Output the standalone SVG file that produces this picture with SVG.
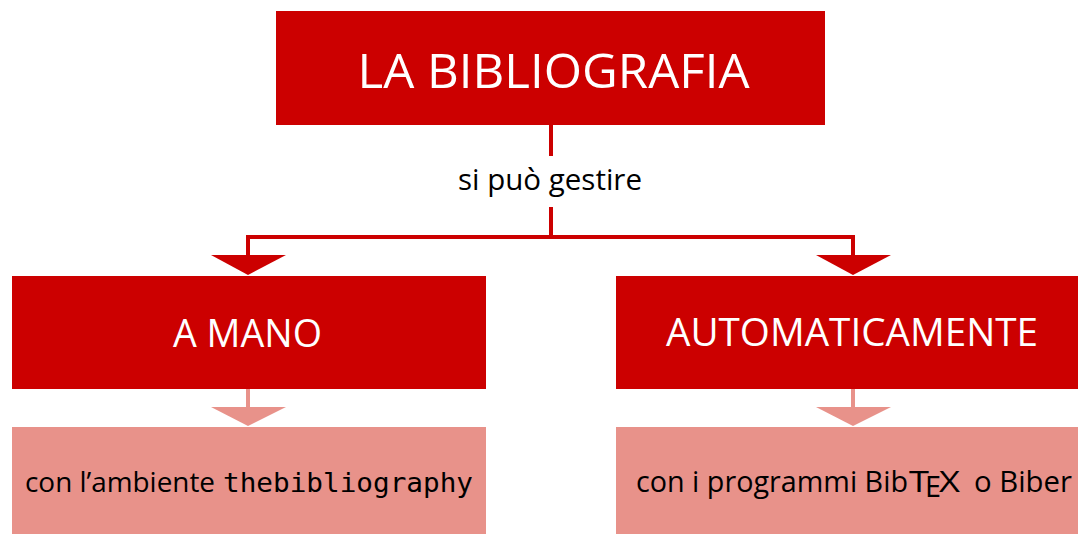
<svg xmlns="http://www.w3.org/2000/svg" width="1078" height="534" viewBox="0 0 1078 534">
<style>
.dark{fill:#CC0000}
.light{fill:#E8928A}
.ln{stroke:#CC0000;stroke-width:4;fill:none}
.lnl{stroke:#E8928A;stroke-width:4;fill:none}
.w{fill:#FFFFFF;font-family:"Open Sans","Noto Sans",sans-serif}
.k{fill:#000000;font-family:"Open Sans","Noto Sans",sans-serif}
.m{fill:#000000;font-family:"DejaVu Sans Mono",monospace}
</style>
<rect width="1078" height="534" fill="#FFFFFF"/>
<g id="connectors">
<path class="ln" d="M551,125 V156 M551,207 V237 M246,237 H855 M248,237 V257 M853,237 V257"/>
<polygon class="dark" points="211,255 286,255 248,275"/>
<polygon class="dark" points="816,255 891,255 853,275"/>
<text class="k" x="458" y="189.5" font-size="29" textLength="184" lengthAdjust="spacingAndGlyphs">si può gestire</text>
<path class="lnl" d="M248,389 V409 M853,389 V409"/>
<polygon class="light" points="211,407 286,407 248,426"/>
<polygon class="light" points="816,407 891,407 853,426"/>
</g>
<g id="node-bibliografia">
<rect class="dark" x="276" y="11" width="549" height="114"/>
<text class="w" x="357.5" y="87.5" font-size="47" textLength="392" lengthAdjust="spacingAndGlyphs">LA BIBLIOGRAFIA</text>
</g>
<g id="node-a-mano">
<rect class="dark" x="12" y="276" width="474" height="113"/>
<text class="w" x="173" y="346.5" font-size="38" textLength="149" lengthAdjust="spacingAndGlyphs">A MANO</text>
</g>
<g id="node-automaticamente">
<rect class="dark" x="616" y="276" width="462" height="113"/>
<text class="w" x="666" y="346" font-size="38" textLength="372" lengthAdjust="spacingAndGlyphs">AUTOMATICAMENTE</text>
</g>
<g id="node-thebibliography">
<rect class="light" x="12" y="427" width="474" height="107"/>
<text class="k" x="25" y="491.7" font-size="28" textLength="190" lengthAdjust="spacingAndGlyphs">con l’ambiente</text>
<text class="m" x="223" y="491.7" font-size="27" textLength="250" lengthAdjust="spacingAndGlyphs">thebibliography</text>
</g>
<g id="node-bibtex">
<rect class="light" x="616" y="427" width="462" height="107"/>
<text class="k" x="636" y="491.7" font-size="29" textLength="272" lengthAdjust="spacingAndGlyphs">con i programmi Bib</text>
<text class="k" x="909" y="491.7" font-size="29" textLength="20" lengthAdjust="spacingAndGlyphs">T</text>
<text class="k" x="925" y="497" font-size="29" textLength="16" lengthAdjust="spacingAndGlyphs">E</text>
<text class="k" x="939" y="491.7" font-size="29" textLength="21" lengthAdjust="spacingAndGlyphs">X</text>
<text class="k" x="974" y="491.7" font-size="29" textLength="98" lengthAdjust="spacingAndGlyphs">o Biber</text>
</g>
</svg>
